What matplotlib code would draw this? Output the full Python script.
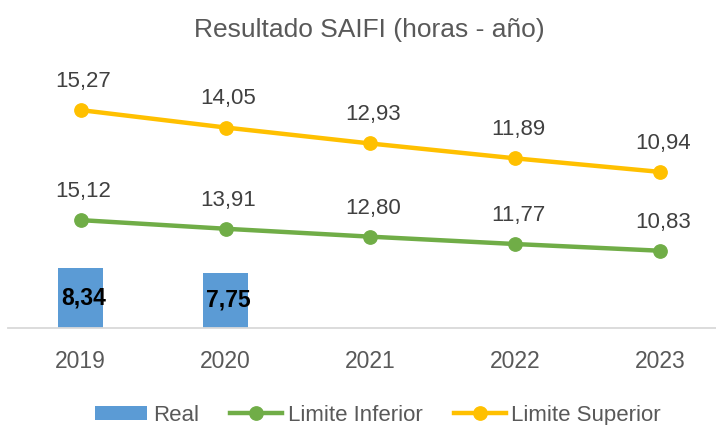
import matplotlib
matplotlib.use("Agg")
import matplotlib.pyplot as plt
from matplotlib.patches import Patch
from matplotlib.lines import Line2D

plt.rcParams['font.family'] = ['Liberation Sans Narrow', 'Liberation Sans', 'DejaVu Sans']

years = ["2019", "2020", "2021", "2022", "2023"]
real = [8.34, 7.75]
lim_inf = [15.12, 13.91, 12.80, 11.77, 10.83]
lim_sup = [15.27, 14.05, 12.93, 11.89, 10.94]

def fmt(v):
    return f"{v:.2f}".replace(".", ",")

W, H = 716, 425
fig = plt.figure(figsize=(W / 100, H / 100), dpi=100)

left = 8.3 / W
bottom = (H - 328) / H
height = 285.4 / H
ax = fig.add_axes([left, bottom, 1 - left, height])
ax2 = ax.twinx()

x = list(range(len(years)))
blue = "#5B9BD5"
green = "#70AD47"
yellow = "#FFC000"

ax.bar(x[:len(real)], real, width=0.31, color=blue, zorder=2)
for i, v in enumerate(real):
    ax.text(i + 0.02, v / 2, fmt(v), ha="center", va="center", fontsize=16.5,
            fontweight="bold", color="black", zorder=5)

ax.plot(x, lim_inf, color=green, lw=3.2, marker="o", markersize=9.6,
        solid_capstyle="round", zorder=3)
for i, v in enumerate(lim_inf):
    ax.annotate(fmt(v), (i, v), xytext=(2, 16.6), textcoords="offset points",
                ha="center", va="baseline", fontsize=16, color="#404040")

ax2.plot(x, lim_sup, color=yellow, lw=3.2, marker="o", markersize=9.6,
         solid_capstyle="round", zorder=3)
for i, v in enumerate(lim_sup):
    ax2.annotate(fmt(v), (i, v), xytext=(2, 16.6), textcoords="offset points",
                 ha="center", va="baseline", fontsize=16, color="#404040")

xmax = (W - 80.7) / 144.8
ax.set_xlim(-0.5, xmax)
ax.set_ylim(0, 40)
ax2.set_ylim(0, 20)

for a in (ax, ax2):
    for s in a.spines.values():
        s.set_visible(False)
    a.set_yticks([])
ax.spines["bottom"].set_visible(True)
ax.spines["bottom"].set_color("#D9D9D9")
ax.spines["bottom"].set_linewidth(1.3)

ax.set_xticks(x)
ax.set_xticklabels(years, fontsize=16.5, color="#595959")
ax.tick_params(axis="x", length=0, pad=16)

fig.text(369 / W, (H - 37.3) / H, "Resultado SAIFI (horas - año)",
         ha="center", va="baseline", fontsize=19, color="#595959")

handles = [
    Patch(facecolor=blue, edgecolor="none", label="Real"),
    Line2D([], [], color=green, lw=3.2, marker="o", markersize=9.6, label="Limite Inferior"),
    Line2D([], [], color=yellow, lw=3.2, marker="o", markersize=9.6, label="Limite Superior"),
]
fig.legend(handles=handles, loc="center left", bbox_to_anchor=(95 / W, 9.5 / H),
           ncol=3, frameon=False, fontsize=16, handlelength=2.35,
           handleheight=0.63, handletextpad=0.25, columnspacing=1.4,
           borderpad=0, borderaxespad=0, labelcolor="#595959")

fig.savefig("out.png", dpi=100)
